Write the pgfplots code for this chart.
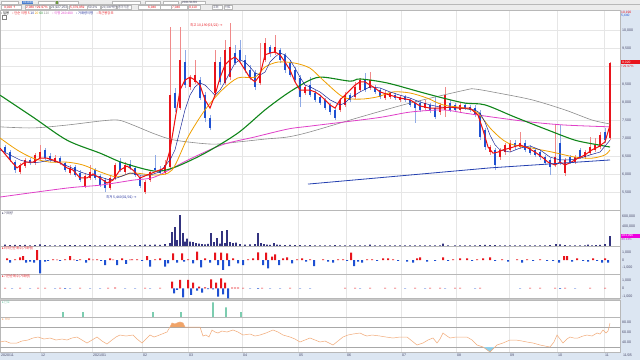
\documentclass[border=0pt]{standalone}
\usepackage{pgfplots}
\pgfplotsset{compat=1.18}
\usepackage{pgfplotstable}
\usepackage{fontspec}
\setmainfont{Liberation Sans}
\newfontfamily\kr{Noto Sans CJK KR}
\newfontfamily\djs{DejaVu Sans}
\newcommand\fs[1]{\fontsize{#1}{#1}\selectfont}
\definecolor{upc}{HTML}{E8141C}
\definecolor{upw}{HTML}{F08A8A}
\definecolor{dnc}{HTML}{1E50D2}
\definecolor{dnw}{HTML}{8FAAE6}
\definecolor{ma5}{HTML}{F01010}
\definecolor{ma10}{HTML}{1C2A9A}
\definecolor{ma20}{HTML}{F0A000}
\definecolor{ma60}{HTML}{10861A}
\definecolor{ma120}{HTML}{E040C8}
\definecolor{ma240}{HTML}{8C8C8C}
\definecolor{trend}{HTML}{2440B0}
\definecolor{volc}{HTML}{33337F}
\definecolor{sigc}{HTML}{7CCDB0}
\definecolor{rsic}{HTML}{F2AA78}
\definecolor{rsif}{HTML}{F0A468}
\definecolor{rsib}{HTML}{8FCFEA}
\definecolor{gridc}{HTML}{E6E6E6}
\definecolor{sepc}{HTML}{B8B8B8}
\definecolor{stripc}{HTML}{DCE6F2}
\definecolor{tbc}{HTML}{ECECEC}
\definecolor{labc}{HTML}{4A4A6A}
\definecolor{tbblue}{HTML}{4A7FD0}
\definecolor{tbgreen}{HTML}{6C9A3C}
\definecolor{gapc}{HTML}{C8C8C8}
\definecolor{magbox}{HTML}{F000E0}
\definecolor{magtxt}{HTML}{C030C0}
\definecolor{rsiline}{HTML}{A8A8A8}

\pgfplotstableread{
x o h l c
20 6060 6310 6000 6250
25 6220 6440 6170 6390
35 6310 6580 6250 6530
40 6440 6810 6390 6610
55 6330 6530 6310 6440
70 6030 6250 5970 6170
85 5670 6000 5610 5940
90 5890 6250 5830 6060
110 5610 5940 5560 5890
115 5890 6310 5830 6250
125 6060 6330 6000 6250
145 5500 5830 5440 5780
150 5830 6110 5780 6060
165 6030 6390 5970 6250
170 6190 10080 6170 8190
180 7830 10080 7780 9170
190 8420 8750 8330 8670
195 8560 9170 8500 8750
215 8250 9440 8190 9110
225 8530 9720 8470 9440
230 8690 10190 8610 9530
260 8530 9640 8470 8810
265 9170 9780 9110 9640
275 9360 9860 9310 9530
305 8250 8470 8190 8420
340 7780 8110 7720 8060
345 7920 8280 7860 8190
355 8140 8560 8080 8420
360 8330 8670 8280 8610
370 8390 8830 8330 8610
385 8110 8330 8060 8250
390 8140 8280 8080 8250
400 8060 8190 8000 8140
425 7830 8060 7780 7970
440 7720 7970 7640 7920
445 7780 8420 7580 8190
460 7780 7970 7720 7920
490 6610 6810 6530 6750
500 6470 6720 6390 6670
505 6610 6860 6530 6810
510 6670 6940 6610 6860
520 6750 7170 6690 6860
555 6250 7360 6190 6470
565 6030 6440 5940 6390
575 6330 6530 6280 6470
585 6470 6670 6420 6610
590 6580 7030 6530 6750
595 6670 7000 6610 6810
600 6750 7170 6690 7080
610 7000 9110 6940 9080
}\upT

\pgfplotstableread{
x o h l c
5 6750 6810 6530 6610
10 6610 6670 6330 6390
15 6330 6390 6030 6110
30 6390 6440 6250 6310
45 6670 6720 6390 6440
50 6500 6580 6330 6390
60 6440 6500 6250 6330
65 6310 6330 6060 6110
75 6190 6250 5920 5970
80 6030 6110 5780 5830
95 6110 6170 5830 5890
100 5940 6000 5640 5690
105 5830 5890 5500 5610
120 6330 6440 6060 6110
130 6280 6390 6110 6170
135 6170 6220 5920 5970
140 5920 5970 5610 5670
155 6170 6530 6060 6110
160 6110 6220 5970 6030
175 8250 8390 7720 7830
185 9110 9440 8390 8470
200 8610 8690 8060 8110
205 8190 8280 7440 7560
210 7560 7640 7220 7280
220 9110 9250 8470 8560
235 9360 9580 9030 9080
240 9440 9720 9110 9170
245 9170 9310 8810 8890
250 8890 9030 8610 8690
255 8810 8890 8330 8420
270 9530 9580 9250 9360
280 9440 9500 9080 9170
285 9310 9360 8810 8890
290 9080 9170 8690 8750
295 8890 8970 8530 8610
300 8670 8750 7860 8140
310 8470 8690 8140 8190
315 8250 8330 8000 8060
320 8140 8190 7920 7970
325 8060 8110 7780 7830
330 7920 7970 7640 7720
335 7780 7830 7500 7560
350 8190 8250 8000 8060
365 8610 8810 8280 8330
375 8420 8470 8220 8280
380 8330 8390 8080 8140
395 8190 8250 8060 8110
405 8140 8190 8000 8060
410 8060 8110 7860 7920
415 7970 8060 7420 7830
420 7970 8060 7720 7780
430 7920 7970 7690 7780
435 7830 8140 7530 7580
450 7970 8060 7720 7780
455 7920 7970 7720 7780
465 7920 7970 7780 7830
470 7860 7920 7720 7780
475 7830 7920 7580 7640
480 7690 7780 6940 7030
485 7220 7280 6670 6750
495 6670 6720 6110 6250
515 6860 6940 6670 6750
525 6860 6940 6610 6670
530 6720 6810 6530 6580
535 6670 6720 6470 6530
540 6610 6670 6390 6470
545 6470 6530 6250 6310
550 6390 6440 5970 6190
560 6860 7360 6250 6310
570 6470 6530 6280 6330
580 6670 6720 6420 6470
605 7170 7280 6860 6940
}\dnT

\pgfplotsset{
  panel/.style={
    scale only axis, width=620pt, xmin=0, xmax=620, anchor=north west,
    axis line style={draw=sepc, line width=0.6pt},
    xtick={40,92,142,188,242,298,346,401,456,509,557,604},
    xticklabels={}, xmajorgrids,
    major grid style={draw=gridc, line width=0.5pt},
    major tick length=0pt, minor tick length=0pt,
    tick style={draw=none},
    yticklabel pos=right,
    yticklabel style={font=\fs{3.6}, text=labc, anchor=west, xshift=2pt, inner sep=0pt},
    scaled y ticks=false, clip=true,
  },
  wick/.style={draw=none, mark=none, forget plot, error bars/.cd, y dir=plus, y explicit, error mark=none,
    error bar style={solid, line width=0.5pt, draw=#1}},
  body/.style={draw=none, mark=none, forget plot, error bars/.cd, y dir=plus, y explicit, error mark=none,
    error bar style={solid, line width=2.2pt, draw=#1}},
}

\begin{document}
\begin{tikzpicture}[x=1pt,y=1pt]
\useasboundingbox (0,0) rectangle (640,-360);
\fill[white] (0,0) rectangle (640,-360);
% toolbar
\fill[tbc] (0,0) rectangle (640,-10);
\draw[sepc,line width=0.3pt] (0,-4.6) -- (640,-4.6);
\foreach \a/\b in {1/18,38/55,58/78,112/140,145/160,163/178,181/205} {\fill[white] (\a,-0.6) rectangle (\b,-4.0); \draw[sepc,line width=0.2pt] (\a,-0.6) rectangle (\b,-4.0);}
\fill[tbblue] (22,-0.6) rectangle (33,-4.0);
\fill[tbgreen] (56,-0.8) rectangle (58,-3.8);
\foreach \a/\b in {1/21,25/49,50/67,69/87,87/100,101/116,117/131,138/160,160/171,171/187,188/200,212/222,224/232} {\fill[white] (\a,-5.2) rectangle (\b,-9.4); \draw[sepc,line width=0.2pt] (\a,-5.2) rectangle (\b,-9.4);}
\node[anchor=west,inner sep=0,font=\fs{3.2},text=upc] at (4,-7.3) {9,020 {\djs↑}};
\node[anchor=west,inner sep=0,font=\fs{3.2},text=upc] at (26,-7.3) {2,080 +29.97\%};
\node[anchor=west,inner sep=0,font=\fs{3.2},text=labc] at (51,-7.3) {21,927,253};
\node[anchor=west,inner sep=0,font=\fs{3.2},text=upc] at (70,-7.3) {5,379,959};
\node[anchor=west,inner sep=0,font=\fs{3.2},text=labc] at (88,-7.3) {50.2\%};
\node[anchor=west,inner sep=0,font=\fs{3.0},text=labc] at (102,-7.3) {\kr 20,300백만};
\node[anchor=west,inner sep=0,font=\fs{3.0},text=labc] at (118,-7.3) {\kr 종가기준};
\node[anchor=west,inner sep=0,font=\fs{3.2},text=upc] at (148,-7.3) {6,940};
\node[anchor=west,inner sep=0,font=\fs{3.2},text=upc] at (172,-7.3) {7,040};
\node[anchor=west,inner sep=0,font=\fs{3.2},text=upc] at (189,-7.3) {9,110};
\node[anchor=west,inner sep=0,font=\fs{3.0},text=labc] at (213,-7.3) {\kr 조회};
\node[anchor=west,inner sep=0,font=\fs{3.0},text=labc] at (225,-7.3) {\kr 차트};
\node[anchor=west,inner sep=0,font=\fs{3.0},text=white] at (23,-2.3) {011040};
\node[anchor=west,inner sep=0,font=\fs{3.0},text=labc] at (182,-2.3) {2021/11/09};
% right strip and date band
\fill[stripc] (620,-10) rectangle (640,-360);
\fill[stripc] (0,-352) rectangle (640,-360);
\fill[gapc] (0,-298) rectangle (620,-300);

% ===== main price panel =====
\begin{axis}[panel, at={(0pt,-10pt)}, height=200pt, ymin=5000, ymax=10555.6,
  ymajorgrids, ytick={5500,6000,6500,7000,7500,8000,8500,9000,9500,10000},
  yticklabels={{5,500},{6,000},{6,500},{7,000},{7,500},{8,000},{8,500},{},{9,500},{10,000}}]
\addplot[wick=upw] table[x=x, y=l, y error plus expr=\thisrow{h}-\thisrow{l}] {\upT};
\addplot[wick=dnw] table[x=x, y=l, y error plus expr=\thisrow{h}-\thisrow{l}] {\dnT};
\addplot[body=upc] table[x=x, y=o, y error plus expr=\thisrow{c}-\thisrow{o}] {\upT};
\addplot[body=dnc] table[x=x, y=c, y error plus expr=\thisrow{o}-\thisrow{c}] {\dnT};
% MA240 gray
\addplot[ma240, line width=0.6pt, smooth] coordinates {(0,7310)(33,7280)(67,7360)(100,7470)(118,7500)(133,7360)(155,7110)(175,6940)(212,6830)(238,6890)(265,6970)(288,7030)(310,7170)(360,7580)(410,7970)(465,8330)(475,8360)(498,8250)(532,8060)(565,7780)(592,7500)(610,7390)};
% MA120 magenta
\addplot[ma120, line width=0.8pt, smooth] coordinates {(0,5360)(67,5610)(100,5690)(133,5830)(155,5920)(188,6390)(222,6810)(255,7030)(288,7250)(310,7330)(377,7560)(410,7720)(443,7780)(465,7690)(498,7560)(532,7440)(565,7360)(610,7310)};
% MA60 green
\addplot[ma60, line width=1.1pt, smooth] coordinates {(0,8190)(33,7580)(67,6940)(100,6580)(123,6310)(155,6080)(175,6190)(205,6580)(238,7140)(265,7780)(288,8250)(310,8610)(323,8690)(350,8580)(360,8640)(387,8530)(420,8280)(443,8110)(465,7970)(485,7920)(515,7580)(548,7220)(575,6940)(598,6810)(610,6750)};
% MA20 orange
\addplot[ma20, line width=0.8pt, smooth] coordinates {(0,7000)(17,6670)(33,6440)(50,6330)(67,6330)(83,6250)(100,6060)(117,5920)(133,6030)(155,5970)(172,6110)(188,7030)(205,7780)(222,8330)(238,8670)(255,8690)(265,8970)(278,9110)(295,9080)(310,8940)(323,8610)(343,8140)(360,8080)(377,8140)(393,8280)(410,8250)(427,8110)(443,7920)(465,7830)(478,7690)(492,7220)(508,6860)(532,6720)(552,6610)(575,6470)(592,6440)(605,6530)(610,6670)};
% MA10 navy
\addplot[ma10, line width=0.5pt] coordinates {(0,6670)(10,6530)(20,6390)(30,6310)(40,6330)(50,6390)(60,6310)(70,6190)(80,6060)(90,5970)(100,5920)(110,5830)(120,5920)(130,6030)(140,5970)(150,5970)(160,6060)(170,6390)(175,6670)(180,7220)(185,7780)(190,8190)(195,8420)(200,8530)(205,8470)(210,8330)(215,8190)(220,8330)(225,8560)(230,8830)(235,9080)(240,9170)(245,9110)(250,8970)(255,8810)(260,8750)(265,8830)(270,9110)(275,9250)(280,9360)(285,9310)(290,9170)(295,8940)(300,8690)(305,8470)(310,8420)(320,8280)(330,8060)(340,7920)(345,7970)(350,8110)(360,8280)(370,8420)(380,8390)(390,8280)(400,8190)(410,8110)(420,8000)(430,7920)(440,7860)(460,7830)(475,7780)(480,7690)(485,7440)(490,7080)(495,6810)(500,6670)(510,6610)(520,6720)(530,6780)(540,6670)(550,6470)(560,6390)(570,6390)(580,6440)(590,6530)(600,6610)(610,6940)};
% MA5 red
\addplot[ma5, line width=1pt] coordinates {(0,6720)(10,6390)(17,6170)(25,6330)(33,6330)(40,6440)(47,6440)(53,6390)(60,6310)(67,6170)(73,6110)(80,5890)(87,5890)(93,6000)(100,5890)(107,5750)(113,5830)(120,6110)(127,6220)(133,6110)(140,5890)(147,5970)(155,6060)(165,6170)(170,6670)(175,7500)(180,8330)(185,8610)(190,8690)(195,8610)(200,8470)(205,8060)(210,7830)(215,8190)(220,8670)(225,9030)(230,9170)(235,9250)(240,9110)(245,8890)(250,8670)(255,8560)(260,8750)(265,9310)(270,9360)(275,9390)(280,9310)(285,9110)(290,8890)(295,8560)(300,8330)(305,8330)(310,8330)(315,8280)(320,8190)(325,8060)(330,7920)(335,7830)(340,8060)(345,8190)(350,8330)(355,8470)(360,8560)(365,8560)(370,8470)(375,8390)(380,8280)(390,8190)(400,8110)(410,8060)(420,7890)(430,7830)(440,7830)(450,7860)(460,7830)(470,7830)(478,7640)(483,7220)(488,6750)(493,6580)(498,6610)(503,6670)(510,6720)(520,6810)(528,6720)(535,6610)(542,6470)(548,6330)(555,6250)(560,6330)(565,6250)(570,6310)(578,6440)(585,6530)(592,6670)(598,6750)(605,6890)(610,7360)};
% trend line
\addplot[trend, line width=0.8pt] coordinates {(308,5720)(490,6170)(610,6390)};
\node[anchor=west, inner sep=0, font=\fs{3.4}, text=upc] at (axis cs:190,10140) {\kr 최고 10,190(03/22) {\djs→}};
\node[anchor=west, inner sep=0, font=\fs{3.4}, text=ma10] at (axis cs:106,5360) {\kr 최저 5,440(02/01) {\djs→}};
\end{axis}
\node[anchor=west,inner sep=0,font=\fs{3.3}] at (1,-13.2) {\kr • 일봉\quad{\color{upc}• 단순 이평 5} {\color{ma10}10} {\color{ma20}20} {\color{ma60}60} {\color{ma240}120}\quad{\color{ma120}• 이평 240 480}\quad{\color{ma10}• 거래량이평}\quad{\color{upc}• 최근봉강조}};
\draw[gray,line width=0.3pt,fill=white] (2,-15.5) rectangle (6,-19);
\node[anchor=west,inner sep=0,font=\fs{3.3},text=upc] at (621,-12.3) {10,190};
\node[anchor=west,inner sep=0,font=\fs{3.3},text=dnc] at (621,-15.8) {5,440};
\fill[upc] (620.5,-60.4) rectangle (639.5,-64.2);
\node[anchor=west,inner sep=0,font=\fs{3.3},text=white] at (622,-62.3) {9,020};
\node[anchor=west,inner sep=0,font=\fs{3.1},text=upc] at (621,-66.2) {+29.97\%};

% ===== volume =====
\begin{axis}[panel, at={(0pt,-210pt)}, height=36pt, ymin=0, ymax=720000,
  ytick={400000,600000}, yticklabels={{400,000},{600,000}}]
\addplot[ybar, bar width=1.8pt, fill=volc, draw=none] coordinates {(5,30000)(10,20000)(15,25000)(20,18000)(25,22000)(30,15000)(35,20000)(40,35000)(45,18000)(50,15000)(55,12000)(60,14000)(65,20000)(70,16000)(75,18000)(80,15000)(85,20000)(90,18000)(95,12000)(100,15000)(105,20000)(110,14000)(115,25000)(120,18000)(125,15000)(130,12000)(135,16000)(140,20000)(145,30000)(150,25000)(155,30000)(160,22000)(165,40000)(170,60000)(172,280000)(175,380000)(177,120000)(180,620000)(183,260000)(185,90000)(187,150000)(190,90000)(193,80000)(196,60000)(199,50000)(202,40000)(205,35000)(208,45000)(211,260000)(214,80000)(217,160000)(220,50000)(222,300000)(225,60000)(227,320000)(230,80000)(233,60000)(236,70000)(240,40000)(245,30000)(250,35000)(255,40000)(258,260000)(261,60000)(264,40000)(267,30000)(270,25000)(274,60000)(277,30000)(280,25000)(285,20000)(290,22000)(295,18000)(300,20000)(305,15000)(310,18000)(315,14000)(320,12000)(325,15000)(330,12000)(335,18000)(340,14000)(345,12000)(350,15000)(355,12000)(360,14000)(365,12000)(370,30000)(375,14000)(380,12000)(385,12000)(390,15000)(395,12000)(400,12000)(405,14000)(410,12000)(415,15000)(420,12000)(425,12000)(430,14000)(435,12000)(440,15000)(443,50000)(448,15000)(455,12000)(460,14000)(465,12000)(470,15000)(475,12000)(480,20000)(485,25000)(490,18000)(495,20000)(500,15000)(505,12000)(510,14000)(515,12000)(520,15000)(525,12000)(530,12000)(535,14000)(540,12000)(545,15000)(550,18000)(556,40000)(560,35000)(565,18000)(570,14000)(575,12000)(580,15000)(585,14000)(588,30000)(592,15000)(596,18000)(600,25000)(605,40000)(610,200000)};
\end{axis}
\fill[magbox] (620.5,-234.2) rectangle (639.5,-237.8);
\node[anchor=west,inner sep=0,font=\fs{3.2},text=white] at (621.5,-236) {283,096};
\node[anchor=west,inner sep=0,font=\fs{3.0},text=magtxt] at (621.5,-239.8) {80.13\%};

% ===== investor 1 =====
\begin{axis}[panel, at={(0pt,-246pt)}, height=28pt, ymin=-1867, ymax=1867,
  ytick={-1000,0,1000}, yticklabels={{-1,000},{0},{1,000}}]
\addplot[ybar, bar width=2pt, fill=upc, draw=none] coordinates {(7,220)(15,90)(20,360)(23,530)(37,1330)(53,90)(57,60)(65,90)(70,530)(74,60)(80,90)(89,220)(93,40)(97,90)(110,220)(113,60)(122,220)(130,40)(132,90)(137,90)(147,530)(155,90)(160,220)(173,890)(182,890)(188,90)(197,1110)(205,220)(215,980)(221,980)(227,890)(233,220)(248,90)(253,220)(258,1020)(266,980)(272,440)(275,760)(283,220)(287,360)(297,90)(302,220)(310,90)(323,90)(338,90)(343,90)(351,980)(367,90)(372,90)(383,220)(388,220)(393,90)(417,220)(420,360)(443,360)(453,90)(460,220)(467,220)(477,90)(483,220)(490,360)(502,90)(517,90)(527,90)(540,90)(564,530)(567,530)(577,220)(593,220)(605,220)};
\addplot[ybar, bar width=2pt, fill=dnc, draw=none] coordinates {(10,-360)(26,-360)(30,-220)(34,-360)(40,-1780)(45,-220)(48,-130)(60,-130)(77,-130)(86,-360)(101,-100)(105,-670)(117,-670)(126,-530)(142,-130)(150,-890)(165,-890)(168,-440)(177,-360)(184,-220)(193,-440)(201,-980)(210,-360)(218,-670)(223,-1330)(229,-800)(238,-440)(243,-670)(263,-670)(268,-1110)(279,-670)(292,-440)(306,-220)(314,-800)(328,-220)(333,-360)(347,-130)(354,-800)(358,-220)(362,-360)(377,-130)(398,-130)(407,-220)(413,-360)(427,-220)(435,-130)(448,-130)(472,-130)(495,-130)(508,-220)(522,-360)(533,-130)(547,-130)(553,-130)(559,-360)(572,-220)(583,-130)(588,-220)(597,-130)(602,-360)(608,-360)};
\end{axis}

% ===== investor 2 =====
\begin{axis}[panel, at={(0pt,-274pt)}, height=24pt, ymin=-1164, ymax=1716,
  ytick={-1000,0,1000}, yticklabels={{-1,000},{0},{1,000}}]
\addplot[ybar, bar width=2pt, fill=upc, draw=none] coordinates {(5,40)(20,40)(38,40)(45,40)(60,40)(80,40)(108,40)(115,80)(145,40)(160,40)(172,800)(180,1000)(188,1000)(193,680)(199,200)(205,100)(211,1080)(216,680)(221,1200)(225,680)(232,80)(235,80)(238,80)(243,60)(262,40)(290,40)(345,40)(355,40)(370,40)(385,40)(395,40)(415,40)(430,40)(440,40)(455,40)(460,40)(480,40)(530,40)(540,40)(555,40)(565,40)(590,40)(605,60)};
\addplot[ybar, bar width=2pt, fill=dnc, draw=none] coordinates {(12,-40)(30,-40)(55,-40)(65,-60)(70,-40)(90,-40)(100,-40)(125,-40)(135,-40)(150,-40)(174,-600)(177,-200)(183,-1080)(191,-800)(197,-280)(202,-520)(208,-100)(213,-120)(218,-1000)(223,-720)(228,-1200)(250,-40)(258,-80)(270,-40)(280,-40)(300,-40)(310,-40)(360,-40)(405,-40)(425,-40)(445,-40)(475,-40)(520,-40)(560,-60)(575,-40)};
\end{axis}

% ===== signal =====
\begin{axis}[panel, at={(0pt,-300pt)}, height=17pt, ymin=0, ymax=3.5, ytick=\empty]
\addplot[ybar, bar width=1.6pt, fill=sigc, draw=none] coordinates {(63,1)(83,1)(153,1)(181,1)(213,3)(226,2)(241,1)};
\end{axis}

% ===== RSI =====
\begin{axis}[panel, at={(0pt,-317pt)}, height=35pt, ymin=20, ymax=90,
  ytick={40,60,80}, yticklabels={{40.00},{60.00},{80.00}},
  extra y ticks={30,70}, extra y tick labels={},
  extra y tick style={ymajorgrids=true, major grid style={draw=rsiline, line width=0.7pt}},
  xtick={0,40,92,142,188,242,298,346,401,456,509,557,604},
  xticklabels={2020/11,12,2021/01,02,03,04,05,06,07,08,09,10,11},
  xticklabel style={anchor=north west, inner sep=0pt, yshift=-1.6pt, xshift=1pt, font=\fs{3.6}, text=labc}]
\addplot[fill=rsif, draw=none] coordinates {(170,70)(172,78)(175,76)(177,78)(180,80)(183,78)(185,70)};
\addplot[fill=rsib, draw=none] coordinates {(483,30)(490,20)(494,28)(494.7,30)};
\addplot[rsic, line width=0.5pt] coordinates {(0,40)(5,42)(10,38)(17,38)(22,42)(28,44)(33,48)(38,50)(44,46)(50,48)(56,44)(62,46)(67,44)(72,48)(77,50)(82,44)(87,38)(92,44)(97,50)(102,42)(107,36)(112,44)(116,50)(120,54)(126,52)(133,54)(137,46)(142,38)(146,46)(150,54)(154,50)(157,52)(162,56)(167,60)(170,70)(172,78)(175,76)(177,78)(180,80)(183,78)(185,70)(192,70)(200,70)(203,52)(206,54)(209,50)(212,64)(215,60)(218,58)(222,62)(227,60)(233,64)(238,60)(243,54)(250,56)(255,52)(260,54)(266,58)(273,64)(278,60)(283,54)(290,50)(295,46)(300,40)(305,44)(310,48)(315,44)(320,40)(325,42)(333,34)(338,42)(343,50)(348,54)(353,56)(360,58)(364,54)(367,52)(372,54)(380,52)(386,50)(393,48)(400,50)(407,50)(412,42)(417,34)(423,38)(428,44)(433,48)(437,38)(440,46)(443,58)(447,52)(450,48)(456,50)(462,50)(467,50)(472,44)(477,34)(483,30)(490,20)(494,28)(497,34)(503,38)(510,44)(516,44)(522,42)(527,40)(533,38)(540,34)(545,32)(550,30)(554,40)(557,54)(560,46)(563,38)(567,46)(570,50)(574,48)(578,48)(583,52)(587,54)(592,52)(597,58)(600,56)(603,64)(606,58)(608,62)(610,78)};
\end{axis}
\node[anchor=west,inner sep=0,font=\fs{3.6},text=labc] at (623,-355.6) {11/05};

% panel headers
\node[anchor=west,inner sep=0,font=\fs{3.3},text=labc] at (2,-212.8) {{\djs▸}\kr 거래량};
\node[anchor=west,inner sep=0,font=\fs{3.3},text=upc] at (2,-248.6) {{\djs▸}\kr 외국인순매수(거래량)};
\node[anchor=west,inner sep=0,font=\fs{3.3},text=upc] at (2,-276.8) {{\djs▸}\kr 기관순매수(거래량)};
\node[anchor=west,inner sep=0,font=\fs{3.3},text=sigc] at (2,-302.2) {{\djs▸}\kr 신호};
\node[anchor=west,inner sep=0,font=\fs{3.3},text=rsic] at (2,-319.4) {{\djs▸} RSI};
\end{tikzpicture}
\end{document}
